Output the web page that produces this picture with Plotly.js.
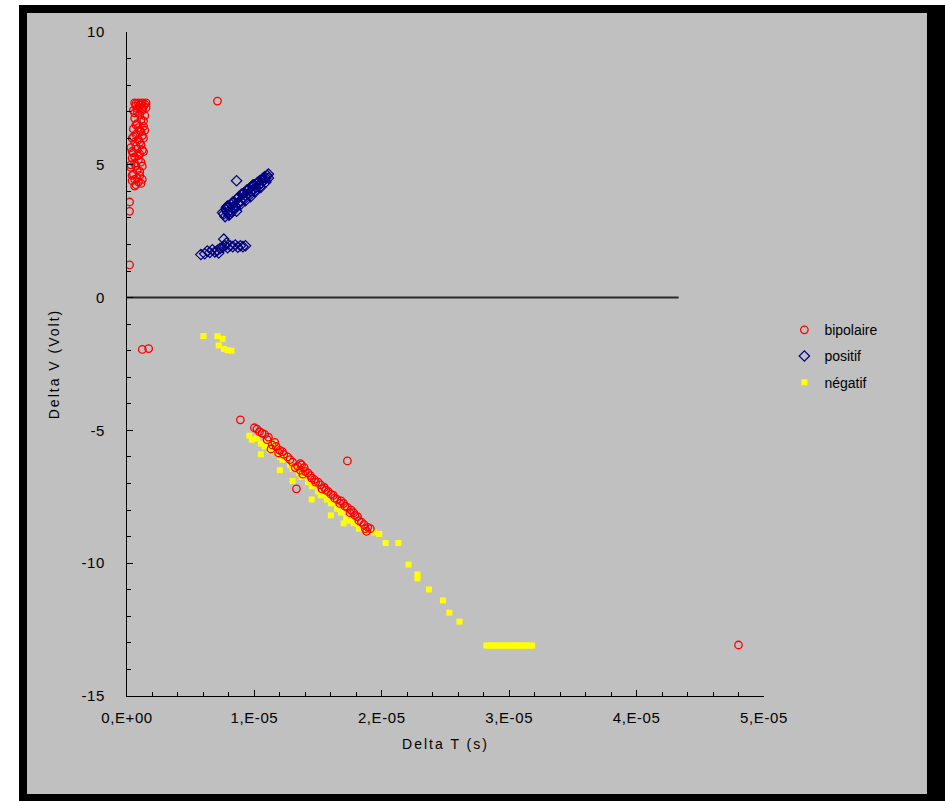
<!DOCTYPE html>
<html>
<head>
<meta charset="utf-8">
<script src="https://cdn.plot.ly/plotly-3.0.1.min.js"></script>
<style>
  html, body { margin:0; padding:0; background:#ffffff; width:945px; height:801px; overflow:hidden; }
  #frame { position:absolute; left:19px; top:5px; width:926px; height:796px; background:#000000; }
  #chart { position:absolute; left:27px; top:13px; width:900px; height:781px; }
  #chart .xtick text, #chart .ytick text { letter-spacing: 0.6px; }
  #chart .xtitle, #chart .ytitle { letter-spacing: 2px; }
</style>
</head>
<body>
<div id="frame"></div>
<div id="chart"></div>
<script>
// ---- data (Delta T in seconds, Delta V in volts) ----
const bipolaireX = [
  0.06e-5,0.09e-5,0.12e-5,0.15e-5,0.07e-5,0.10e-5,0.13e-5,0.15e-5,0.05e-5,0.08e-5,
  0.12e-5,0.10e-5,0.14e-5,0.06e-5,0.11e-5,0.08e-5,0.13e-5,0.05e-5,0.10e-5,0.07e-5,
  0.12e-5,0.04e-5,0.09e-5,0.06e-5,0.11e-5,0.03e-5,0.08e-5,0.05e-5,0.10e-5,0.04e-5,
  0.09e-5,0.06e-5,0.12e-5,0.03e-5,0.08e-5,0.05e-5,0.10e-5,0.06e-5,0.09e-5,0.07e-5,
  0.11e-5,0.04e-5,0.13e-5,0.13e-5,0.02e-5,0.02e-5,0.02e-5,0.71e-5,
  0.07e-5,0.11e-5,0.14e-5,0.08e-5,0.12e-5,0.06e-5,0.13e-5,0.09e-5,0.07e-5,0.11e-5,
  0.05e-5,0.10e-5,0.07e-5,0.12e-5,0.04e-5,0.09e-5,0.06e-5,0.11e-5,0.07e-5,0.10e-5,
  0.04e-5,0.08e-5,0.12e-5,0.06e-5,0.03e-5,0.14e-5,
  0.12e-5,0.17e-5,0.89e-5,1.00e-5,1.04e-5,1.08e-5,1.11e-5,1.14e-5,1.13e-5,1.17e-5,
  1.20e-5,1.23e-5,1.26e-5,1.30e-5,1.34e-5,1.36e-5,1.39e-5,1.42e-5,1.45e-5,1.47e-5,
  1.50e-5,1.52e-5,1.55e-5,1.58e-5,1.62e-5,1.65e-5,1.68e-5,1.70e-5,1.73e-5,1.76e-5,
  1.78e-5,1.81e-5,1.84e-5,1.86e-5,1.89e-5,1.88e-5,1.91e-5,1.73e-5,1.33e-5,4.80e-5,
  1.02e-5,1.06e-5,1.10e-5,1.16e-5,1.19e-5,1.22e-5,1.28e-5,1.32e-5,1.37e-5,1.40e-5,
  1.44e-5,1.48e-5,1.53e-5,1.56e-5,1.60e-5,1.63e-5,1.67e-5,1.71e-5,1.75e-5,1.79e-5,
  1.82e-5,1.87e-5,1.36e-5,1.38e-5
];
const bipolaireY = [
  7.33,7.33,7.33,7.33,7.22,7.25,7.20,7.15,7.05,7.00,
  7.05,6.90,6.85,6.75,6.70,6.55,6.45,6.35,6.30,6.15,
  6.10,6.00,5.95,5.85,5.75,5.65,5.60,5.45,5.40,5.25,
  5.20,5.05,4.95,4.90,4.80,4.65,4.60,4.45,4.35,4.25,
  4.30,4.40,5.50,6.00,3.60,3.25,1.23,7.40,
  7.30,7.30,7.28,7.12,7.12,6.95,6.65,6.40,6.50,6.25,
  6.05,5.85,5.70,5.55,5.50,5.35,5.30,5.10,4.95,4.75,
  4.60,4.50,4.45,4.20,5.00,6.30,
  -1.95,-1.92,-4.60,-4.90,-5.05,-5.15,-5.25,-5.55,-5.70,-5.60,
  -5.75,-5.90,-6.00,-6.20,-6.35,-6.50,-6.40,-6.60,-6.80,-6.85,
  -6.95,-7.05,-7.15,-7.30,-7.45,-7.60,-7.65,-7.75,-7.90,-8.00,
  -8.10,-8.25,-8.45,-8.55,-8.65,-8.80,-8.70,-6.15,-7.20,-13.08,
  -4.95,-5.10,-5.35,-5.45,-5.85,-5.80,-6.10,-6.40,-6.30,-6.55,
  -6.70,-6.95,-7.20,-7.25,-7.40,-7.55,-7.75,-7.85,-8.10,-8.20,
  -8.40,-8.70,-6.25,-6.65
];

const positifX = [
  0.76e-5,0.78e-5,0.79e-5,0.80e-5,0.81e-5,0.82e-5,0.83e-5,0.84e-5,0.85e-5,0.86e-5,
  0.87e-5,0.88e-5,0.89e-5,0.90e-5,0.91e-5,0.92e-5,0.93e-5,0.94e-5,0.95e-5,0.96e-5,
  0.97e-5,0.98e-5,0.99e-5,1.00e-5,1.01e-5,1.02e-5,1.03e-5,1.04e-5,1.05e-5,1.06e-5,
  1.07e-5,1.08e-5,1.09e-5,1.10e-5,1.11e-5,0.80e-5,0.84e-5,0.88e-5,0.92e-5,0.96e-5,
  1.00e-5,1.04e-5,0.78e-5,0.86e-5,0.86e-5,
  0.77e-5,0.79e-5,0.82e-5,0.83e-5,0.85e-5,0.87e-5,0.89e-5,0.91e-5,0.93e-5,0.95e-5,
  0.97e-5,0.99e-5,1.01e-5,1.03e-5,1.05e-5,1.07e-5,1.09e-5,1.11e-5,0.81e-5,0.75e-5,
  0.58e-5,0.61e-5,0.63e-5,0.65e-5,0.67e-5,0.69e-5,0.71e-5,0.73e-5,0.75e-5,0.76e-5,
  0.77e-5,0.79e-5,0.81e-5,0.83e-5,0.85e-5,0.87e-5,0.89e-5,0.91e-5,0.93e-5,0.72e-5,0.78e-5
];
const positifY = [
  3.15,3.30,3.20,3.45,3.30,3.50,3.40,3.60,3.45,3.70,
  3.55,3.80,3.65,3.90,3.75,3.95,3.85,4.05,3.90,4.10,
  4.00,4.20,4.05,4.25,4.15,4.30,4.20,4.40,4.30,4.45,
  4.40,4.55,4.50,4.60,4.65,3.10,3.35,3.55,3.70,3.85,
  4.00,4.15,3.40,3.25,4.40,
  3.05,3.45,3.25,3.60,3.35,3.75,3.50,3.90,3.65,4.05,
  3.80,4.25,4.00,4.35,4.15,4.50,4.35,4.50,3.15,3.20,
  1.62,1.65,1.75,1.70,1.80,1.72,1.78,1.85,1.90,2.20,
  1.95,1.88,1.95,1.92,1.98,1.90,1.95,1.92,1.95,1.68,2.05
];

const negatifX = [
  0.60e-5,0.71e-5,0.75e-5,0.72e-5,0.76e-5,0.79e-5,0.82e-5,
  0.96e-5,0.98e-5,1.02e-5,1.05e-5,1.08e-5,1.10e-5,1.12e-5,1.15e-5,1.18e-5,1.20e-5,
  1.22e-5,1.25e-5,1.28e-5,1.30e-5,1.32e-5,1.35e-5,1.37e-5,1.40e-5,1.42e-5,1.45e-5,
  1.48e-5,1.50e-5,1.52e-5,1.55e-5,1.57e-5,1.60e-5,1.62e-5,1.65e-5,1.68e-5,1.70e-5,
  1.72e-5,1.75e-5,1.78e-5,1.82e-5,1.88e-5,1.94e-5,1.98e-5,1.05e-5,1.20e-5,1.30e-5,
  1.45e-5,1.60e-5,1.70e-5,1.15e-5,1.38e-5,
  2.03e-5,2.13e-5,2.21e-5,2.28e-5,2.28e-5,2.37e-5,2.48e-5,2.53e-5,2.61e-5,
  2.82e-5,2.84e-5,2.86e-5,2.88e-5,2.90e-5,2.92e-5,2.94e-5,2.96e-5,2.98e-5,3.00e-5,
  3.02e-5,3.04e-5,3.06e-5,3.08e-5,3.10e-5,3.12e-5,3.14e-5,3.16e-5,3.18e-5
];
const negatifY = [
  -1.45,-1.45,-1.55,-1.80,-1.93,-1.98,-2.00,
  -5.20,-5.35,-5.30,-5.50,-5.60,-5.45,-5.75,-5.80,-5.70,-6.00,
  -6.10,-6.05,-6.30,-6.45,-6.40,-6.60,-6.75,-6.70,-6.95,-7.10,
  -7.05,-7.30,-7.45,-7.40,-7.60,-7.75,-7.70,-7.95,-8.10,-8.05,
  -8.30,-8.40,-8.50,-8.70,-8.85,-8.84,-8.90,-5.90,-6.50,-6.90,
  -7.60,-8.20,-8.50,-5.50,-6.40,
  -9.24,-9.24,-10.05,-10.42,-10.57,-10.99,-11.40,-11.86,-12.20,
  -13.10,-13.10,-13.10,-13.10,-13.10,-13.10,-13.10,-13.10,-13.10,-13.10,
  -13.10,-13.10,-13.10,-13.10,-13.10,-13.10,-13.10,-13.10,-13.10
];

const zeroLineX = [0, 4.33e-5];
const zeroLineY = [0, 0];

const xTickVals = [0, 1e-5, 2e-5, 3e-5, 4e-5, 5e-5];
const xTickText = ['0,E+00', '1,E-05', '2,E-05', '3,E-05', '4,E-05', '5,E-05'];
const yTickVals = [-15, -10, -5, 0, 5, 10];
const yTickText = ['-15', '-10', '-5', '0', '5', '10'];

const seriesNames = ['bipolaire', 'positif', 'négatif'];

// ---- chart ----
const FONT = 'Liberation Sans, Arial, sans-serif';

const traces = [
  { x: zeroLineX, y: zeroLineY, mode: 'lines', showlegend: false, hoverinfo: 'skip',
    line: { color: '#2a2a2a', width: 2 } },
  { x: negatifX, y: negatifY, name: seriesNames[2], mode: 'markers', legendrank: 3,
    legendgroup: 'c', marker: { symbol: 'square', size: 6, color: '#FFFF00', line: { width: 0 } } },
  { x: positifX, y: positifY, name: seriesNames[1], mode: 'markers', legendrank: 2,
    legendgroup: 'b', marker: { symbol: 'diamond-open', size: 8, color: '#000080', line: { width: 1.2, color: '#000080' } } },
  { x: bipolaireX, y: bipolaireY, name: seriesNames[0], mode: 'markers', legendrank: 1,
    legendgroup: 'a', marker: { symbol: 'circle-open', size: 7.5, color: '#FF0000', line: { width: 1.3, color: '#FF0000' } } }
];

const layout = {
  width: 900, height: 781,
  margin: { l: 100, r: 163, t: 19, b: 98, pad: 0 },
  paper_bgcolor: '#C0C0C0',
  plot_bgcolor: '#C0C0C0',
  font: { family: FONT, size: 14, color: '#000000' },
  showlegend: true,
  legend: {
    x: 1.032, xanchor: 'left', y: 0.575, yanchor: 'top',
    bgcolor: 'rgba(0,0,0,0)', borderwidth: 0,
    font: { family: FONT, size: 14, color: '#000000' },
    tracegroupgap: 5, itemwidth: 30, traceorder: 'grouped'
  },
  xaxis: {
    range: [0, 5e-5], tickmode: 'array', tickvals: xTickVals, ticktext: xTickText,
    showgrid: false, zeroline: false, showline: true, linecolor: '#000000', linewidth: 1,
    ticks: 'inside', ticklen: 6, tickwidth: 1, tickcolor: '#000000',
    minor: { dtick: 2e-6, tick0: 0, ticks: 'inside', ticklen: 4, tickwidth: 1, tickcolor: '#000000', showgrid: false },
    ticklabelstandoff: 8,
    tickfont: { family: FONT, size: 15, color: '#000000' },
    title: { text: 'Delta T (s)', standoff: 14, font: { family: FONT, size: 14, color: '#000000' } },
    fixedrange: true
  },
  yaxis: {
    range: [-15, 10], tickmode: 'array', tickvals: yTickVals, ticktext: yTickText,
    showgrid: false, zeroline: false, showline: true, linecolor: '#000000', linewidth: 1,
    ticks: 'inside', ticklen: 6, tickwidth: 1, tickcolor: '#000000',
    minor: { dtick: 1, tick0: 0, ticks: 'inside', ticklen: 4, tickwidth: 1, tickcolor: '#000000', showgrid: false },
    ticklabelstandoff: 18,
    tickfont: { family: FONT, size: 15, color: '#000000' },
    title: { text: 'Delta V (Volt)', standoff: 20, font: { family: FONT, size: 14, color: '#000000' } },
    fixedrange: true
  }
};

Plotly.newPlot('chart', traces, layout, { displayModeBar: false, staticPlot: true });
</script>
</body>
</html>
